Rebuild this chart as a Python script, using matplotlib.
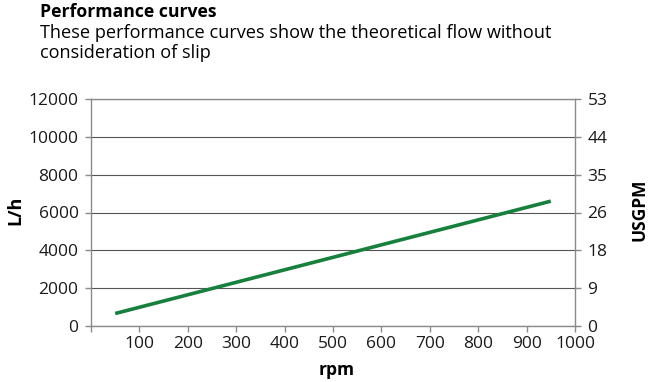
import matplotlib
matplotlib.use("Agg")
import matplotlib.pyplot as plt

rpm = [50, 950]
flow_lh = [660, 6600]
x_ticks = [100, 200, 300, 400, 500, 600, 700, 800, 900, 1000]
y_ticks = [0, 2000, 4000, 6000, 8000, 10000, 12000]
usgpm_labels = ["0", "9", "18", "26", "35", "44", "53"]

plt.rcParams['font.family'] = ['Open Sans', 'DejaVu Sans']

fig = plt.figure(figsize=(6.53, 3.82), dpi=100)
W, H = 653, 382
left, right, top, bottom = 91, 575, 99, 326
ax = fig.add_axes([left / W, 1 - bottom / H, (right - left) / W, (bottom - top) / H])

ax.plot(rpm, flow_lh, color="#17803d", lw=2.6, solid_capstyle="butt")
ax.set_xlim(0, 1000)
ax.set_ylim(0, 12000)
ax.set_xticks([0] + x_ticks)
ax.set_xticklabels([""] + [str(t) for t in x_ticks])
ax.set_yticks(y_ticks)
ax.set_yticklabels([str(t) for t in y_ticks])
ax.yaxis.grid(True, color="#555555", lw=0.8)
ax.set_axisbelow(True)
for s in ["left", "bottom", "right", "top"]:
    ax.spines[s].set_color("#8a8a8a")
    ax.spines[s].set_linewidth(1.0)
ax.tick_params(axis="both", colors="#8a8a8a", labelcolor="#1a1a1a", labelsize=12.5, length=4, width=1)
ax.tick_params(axis="y", pad=5)
ax.tick_params(axis="x", pad=3)

ax2 = ax.twinx()
ax2.set_ylim(0, 12000)
ax2.set_yticks(y_ticks)
ax2.set_yticklabels(usgpm_labels)
ax2.tick_params(axis="y", colors="#8a8a8a", labelcolor="#1a1a1a", labelsize=12.5, length=4, width=1, pad=5)
for s in ["left", "bottom", "right", "top"]:
    ax2.spines[s].set_visible(False)

fig.text(15 / W, 1 - 210 / H, "L/h", rotation=90, fontsize=13, fontweight="bold", ha="center", va="center")
fig.text(640 / W, 1 - 210 / H, "USGPM", rotation=90, fontsize=12.5, fontweight="bold", ha="center", va="center")
fig.text(337 / W, 1 - 370 / H, "rpm", fontsize=12.5, fontweight="bold", ha="center", va="center")

fig.text(40 / W, 1 - 12 / H, "Performance curves", fontsize=12.7, fontweight="bold", ha="left", va="center")
fig.text(40 / W, 1 - 33 / H, "These performance curves show the theoretical flow without", fontsize=13.1, ha="left", va="center")
fig.text(40 / W, 1 - 53 / H, "consideration of slip", fontsize=13.1, ha="left", va="center")

fig.savefig("out.png", dpi=100)
